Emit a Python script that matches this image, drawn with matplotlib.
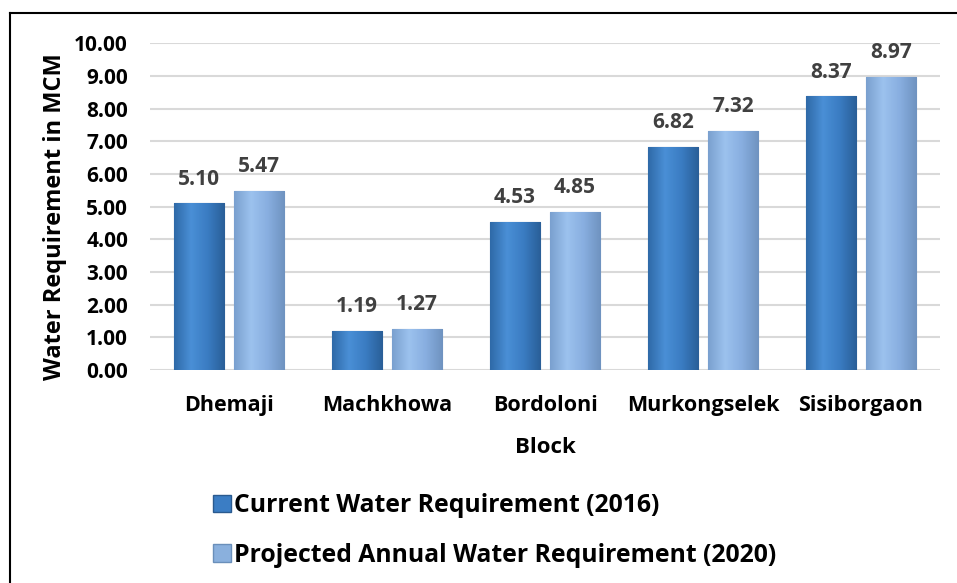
import numpy as np
import matplotlib.pyplot as plt
from matplotlib.lines import Line2D
from matplotlib.patches import Rectangle
from matplotlib.colors import LinearSegmentedColormap

plt.rcParams['font.family'] = ['Open Sans', 'DejaVu Sans']
plt.rcParams['font.weight'] = 'bold'

blocks = ['Dhemaji', 'Machkhowa', 'Bordoloni', 'Murkongselek', 'Sisiborgaon']
current = [5.10, 1.19, 4.53, 6.82, 8.37]
projected = [5.47, 1.27, 4.85, 7.32, 8.97]
series_names = ['Current Water Requirement (2016)',
                'Projected Annual Water Requirement (2020)']

fig = plt.figure(figsize=(9.57, 5.83), dpi=100)
ax = fig.add_axes([0.157, 0.365, 0.825, 0.561])

x = np.arange(len(blocks))
w = 0.32
off = 0.19

# horizontal gradients to mimic the bevelled office bars
cm_cur = LinearSegmentedColormap.from_list('cur', ['#2f6aa8', '#4a8fd6', '#3a7cc2', '#2a5f98'])
cm_pro = LinearSegmentedColormap.from_list('pro', ['#7aa0cf', '#9cc2ee', '#88aee0', '#6f93c0'])

bars1 = ax.bar(x - off, current, w, color='#3b7dc4', edgecolor='#2a5a8f', linewidth=0.8, zorder=3)
bars2 = ax.bar(x + off, projected, w, color='#8ab0dd', edgecolor='#6a8fba', linewidth=0.8, zorder=3)

grad = np.linspace(0, 1, 64).reshape(1, -1)
for bars, cm in [(bars1, cm_cur), (bars2, cm_pro)]:
    for b in bars:
        x0, y0 = b.get_x(), b.get_y()
        im = ax.imshow(grad, cmap=cm, aspect='auto', zorder=3.5,
                       extent=[x0, x0 + b.get_width(), y0, y0 + b.get_height()])
        im.set_clip_path(b)

for bars, vals in [(bars1, current), (bars2, projected)]:
    for b, v in zip(bars, vals):
        ax.annotate('%.2f' % v, (b.get_x() + b.get_width() / 2, v),
                    xytext=(0, 10), textcoords='offset points',
                    ha='center', va='bottom', fontsize=15, color='#404040', fontweight='bold')

ax.set_xlim(-0.5, len(blocks) - 0.5)
ax.set_ylim(0, 10)
ax.set_yticks(np.arange(0, 10.01, 1))
ax.set_yticklabels(['%.2f' % t for t in np.arange(0, 10.01, 1)])
ax.set_xticks(x)
ax.set_xticklabels(blocks)
ax.tick_params(axis='y', length=0, pad=16, labelsize=15)
ax.tick_params(axis='x', length=0, pad=18, labelsize=15.5)
ax.grid(axis='y', color='#d9d9d9', linewidth=1.5, zorder=0)
for s in ax.spines.values():
    s.set_visible(False)
ax.set_ylabel('Water Requirement in MCM', fontsize=17, fontweight='bold')
ax.yaxis.set_label_coords(-0.105, 0.47)
ax.set_xlabel('Block', fontsize=16, fontweight='bold', labelpad=15)

handles = [Rectangle((0, 0), 1, 1, facecolor='#3b7dc4', edgecolor='#2a5a8f'),
           Rectangle((0, 0), 1, 1, facecolor='#8ab0dd', edgecolor='#6a8fba')]
fig.legend(handles, series_names, loc='center left', bbox_to_anchor=(0.212, 0.09),
           borderaxespad=0, frameon=False, fontsize=17.8, handlelength=0.72, handleheight=0.72,
           handletextpad=0.15, labelspacing=1.0)

# outer frame of the chart area (cropped at right and bottom)
fig.add_artist(Line2D([0.0105, 0.0105], [0.0, 0.978], color='black', linewidth=1.5))
fig.add_artist(Line2D([0.0105, 1.0], [0.978, 0.978], color='black', linewidth=1.5))

fig.savefig('out.png', dpi=100)
